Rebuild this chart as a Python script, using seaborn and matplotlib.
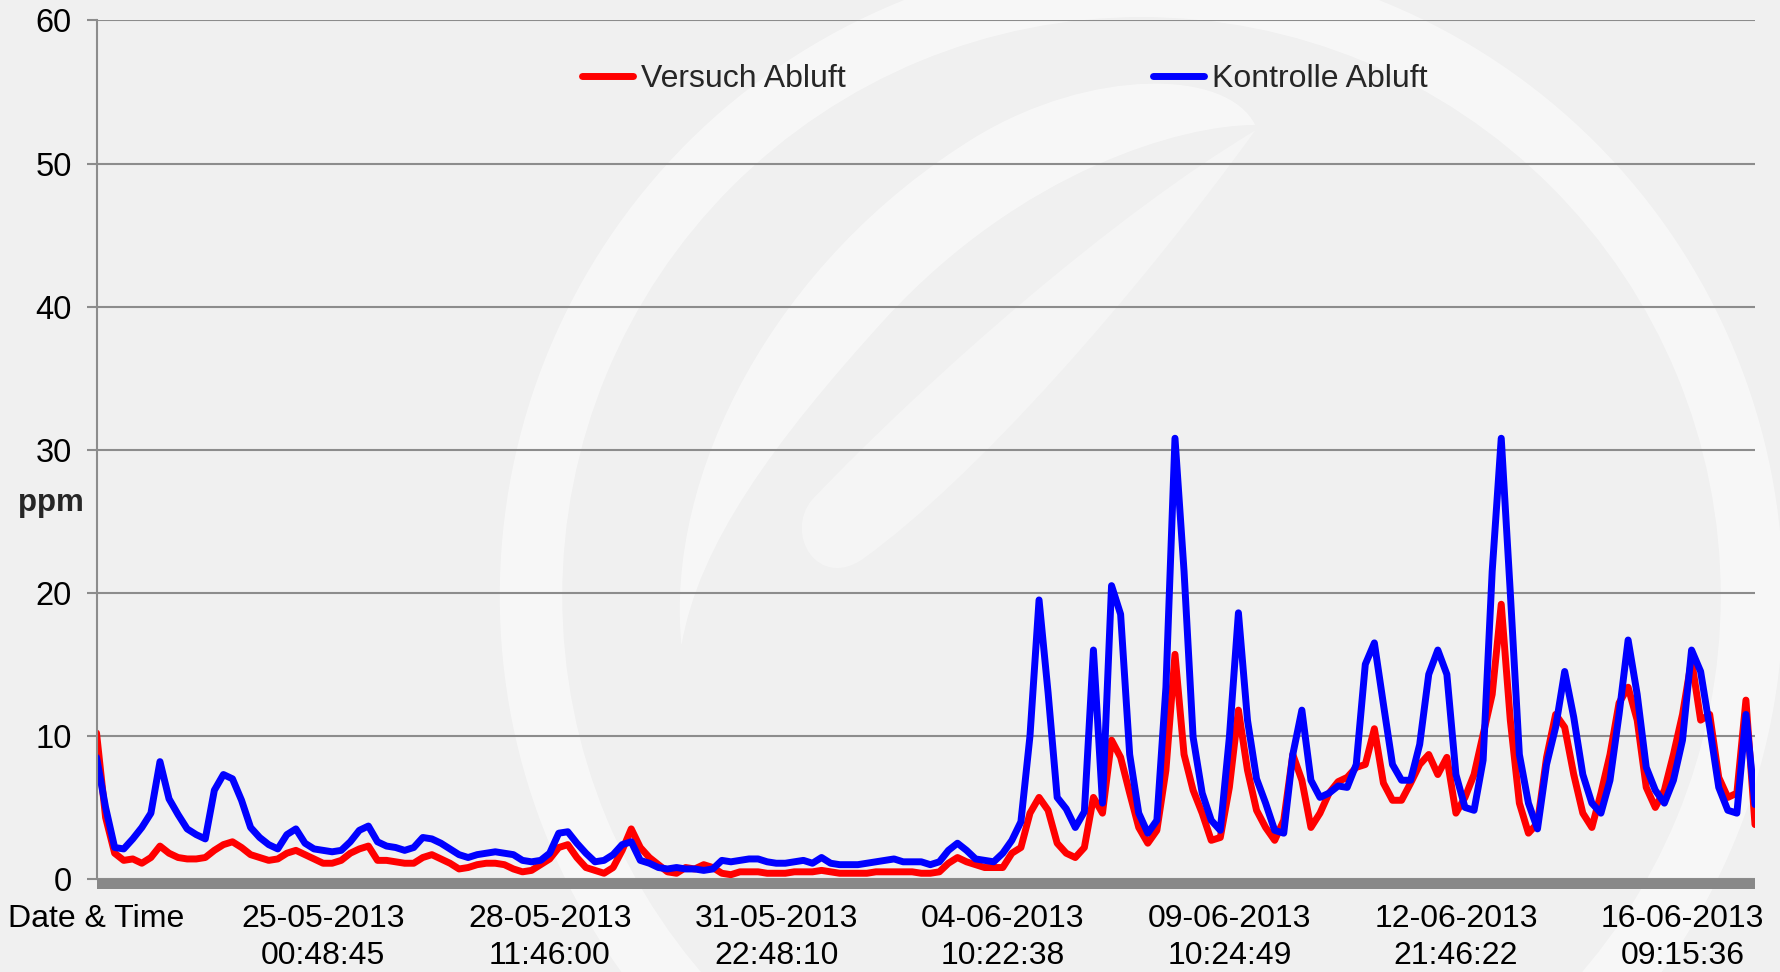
import numpy as np
import pandas as pd
import seaborn as sns
import matplotlib.pyplot as plt
from matplotlib.patches import Wedge, PathPatch, Rectangle
from matplotlib.path import Path

# ---------------- data (ppm per sample) ----------------
versuch = [10.2, 4.3, 1.8, 1.3, 1.4, 1.1, 1.5, 2.3, 1.8, 1.5,
           1.4, 1.4, 1.5, 2.0, 2.4, 2.6, 2.2, 1.7, 1.5, 1.3,
           1.4, 1.8, 2.0, 1.7, 1.4, 1.1, 1.1, 1.3, 1.8, 2.1,
           2.3, 1.3, 1.3, 1.2, 1.1, 1.1, 1.5, 1.7, 1.4, 1.1,
           0.7, 0.8, 1.0, 1.1, 1.1, 1.0, 0.7, 0.5, 0.6, 1.0,
           1.4, 2.2, 2.4, 1.5, 0.8, 0.6, 0.4, 0.8, 2.0, 3.5,
           2.2, 1.5, 1.0, 0.5, 0.4, 0.8, 0.7, 1.0, 0.8, 0.4,
           0.3, 0.5, 0.5, 0.5, 0.4, 0.4, 0.4, 0.5, 0.5, 0.5,
           0.6, 0.5, 0.4, 0.4, 0.4, 0.4, 0.5, 0.5, 0.5, 0.5,
           0.5, 0.4, 0.4, 0.5, 1.1, 1.5, 1.2, 1.0, 0.8, 0.8,
           0.8, 1.8, 2.2, 4.6, 5.7, 4.8, 2.5, 1.8, 1.5, 2.2,
           5.7, 4.6, 9.7, 8.5, 6.0, 3.6, 2.5, 3.4, 7.6, 15.7,
           8.7, 6.2, 4.6, 2.7, 2.9, 6.4, 11.8, 7.6, 4.8, 3.6,
           2.7, 4.1, 8.7, 6.9, 3.6, 4.6, 6.0, 6.8, 7.1, 7.8,
           8.0, 10.5, 6.7, 5.5, 5.5, 6.7, 8.0, 8.7, 7.3, 8.5,
           4.6, 5.7, 7.3, 10.1, 12.9, 19.2, 11.1, 5.3, 3.2, 3.9,
           8.5, 11.5, 10.6, 7.3, 4.6, 3.6, 6.0, 8.7, 12.3, 13.4,
           11.1, 6.4, 5.0, 6.2, 8.7, 11.5, 15.3, 11.1, 11.5, 7.1,
           5.7, 6.0, 12.5, 3.8]

kontrolle = [8.5, 5.0, 2.2, 2.1, 2.8, 3.6, 4.6, 8.2, 5.6, 4.5,
             3.5, 3.1, 2.8, 6.2, 7.3, 7.0, 5.5, 3.6, 2.9, 2.4,
             2.1, 3.1, 3.5, 2.5, 2.1, 2.0, 1.9, 2.0, 2.6, 3.4,
             3.7, 2.6, 2.3, 2.2, 2.0, 2.2, 2.9, 2.8, 2.5, 2.1,
             1.7, 1.5, 1.7, 1.8, 1.9, 1.8, 1.7, 1.3, 1.2, 1.3,
             1.8, 3.2, 3.3, 2.5, 1.8, 1.2, 1.3, 1.7, 2.4, 2.6,
             1.3, 1.1, 0.8, 0.7, 0.8, 0.7, 0.7, 0.6, 0.7, 1.3,
             1.2, 1.3, 1.4, 1.4, 1.2, 1.1, 1.1, 1.2, 1.3, 1.1,
             1.5, 1.1, 1.0, 1.0, 1.0, 1.1, 1.2, 1.3, 1.4, 1.2,
             1.2, 1.2, 1.0, 1.2, 2.0, 2.5, 2.0, 1.4, 1.3, 1.2,
             1.8, 2.7, 4.0, 10.0, 19.5, 13.0, 5.7, 4.9, 3.6, 4.7,
             16.0, 5.3, 20.5, 18.5, 8.7, 4.6, 3.2, 4.1, 13.4, 30.8,
             21.5, 9.9, 6.0, 4.1, 3.4, 9.9, 18.6, 11.1, 7.0, 5.3,
             3.4, 3.2, 8.7, 11.8, 6.9, 5.7, 6.0, 6.5, 6.4, 8.0,
             15.0, 16.5, 12.2, 8.0, 6.9, 6.9, 9.4, 14.3, 16.0, 14.3,
             7.3, 5.0, 4.8, 8.3, 21.5, 30.8, 20.0, 8.7, 5.3, 3.5,
             8.0, 10.6, 14.5, 11.3, 7.3, 5.3, 4.6, 6.9, 11.5, 16.7,
             12.9, 7.8, 6.2, 5.3, 6.9, 9.7, 16.0, 14.5, 10.6, 6.4,
             4.8, 4.6, 11.5, 5.2]

tick_pos = [0, 25, 50, 75, 100, 125, 150, 175]
tick_labels = ["Date & Time",
               "25-05-2013\n00:48:45",
               "28-05-2013\n11:46:00",
               "31-05-2013\n22:48:10",
               "04-06-2013\n10:22:38",
               "09-06-2013\n10:24:49",
               "12-06-2013\n21:46:22",
               "16-06-2013\n09:15:36"]

df = pd.DataFrame({"idx": np.arange(len(kontrolle)),
                   "Versuch Abluft": versuch,
                   "Kontrolle Abluft": kontrolle})

sns.set_style("white")
plt.rcParams['font.family'] = ['Liberation Sans', 'DejaVu Sans']

fig = plt.figure(figsize=(17.81, 9.72), dpi=100)
fig.patch.set_facecolor('#f0f0f0')

# ---------- watermark swooshes (background) ----------
bg = fig.add_axes([0, 0, 1, 1], zorder=0)
bg.set_xlim(0, 1568)
bg.set_ylim(856, 0)
bg.axis('off')
bg.add_patch(Wedge((1005, 525), 565, 0, 360, width=55, color='white', alpha=0.5, lw=0))
cres = Path([(600, 568), (585, 420), (680, 230), (860, 120),
             (960, 60), (1080, 60), (1105, 110),
             (1040, 110), (900, 150), (780, 280),
             (680, 390), (615, 480), (600, 568), (600, 568)],
            [Path.MOVETO, Path.CURVE4, Path.CURVE4, Path.CURVE4,
             Path.CURVE4, Path.CURVE4, Path.CURVE4,
             Path.CURVE4, Path.CURVE4, Path.CURVE4,
             Path.CURVE4, Path.CURVE4, Path.CURVE4, Path.CLOSEPOLY])
bg.add_patch(PathPatch(cres, color='white', alpha=0.5, lw=0))
leaf = Path([(1105, 115), (1000, 260), (860, 420), (760, 492),
             (720, 520), (690, 470), (715, 440),
             (820, 330), (980, 190), (1105, 115), (1105, 115)],
            [Path.MOVETO, Path.CURVE4, Path.CURVE4, Path.CURVE4,
             Path.CURVE4, Path.CURVE4, Path.CURVE4,
             Path.CURVE4, Path.CURVE4, Path.CURVE4, Path.CLOSEPOLY])
bg.add_patch(PathPatch(leaf, color='white', alpha=0.35, lw=0))

# ---------- main axes ----------
ax = fig.add_axes([0.0542, 0.0957, 0.9312, 0.8833], zorder=1)
ax.set_facecolor('none')

sns.lineplot(data=df, x="idx", y="Versuch Abluft", color='#ff0000', lw=5,
             ax=ax, label="Versuch Abluft")
sns.lineplot(data=df, x="idx", y="Kontrolle Abluft", color='#0000ff', lw=5,
             ax=ax, label="Kontrolle Abluft")

ax.set_xlim(0, 183)
ax.set_ylim(0, 60)
ax.set_yticks(range(0, 61, 10))
ax.set_xticks(tick_pos, tick_labels)
ax.set_xlabel("")
ax.set_ylabel("")

ax.yaxis.grid(True, color='#8c8c8c', lw=1.5)
ax.xaxis.grid(False)
ax.set_axisbelow(True)
for s in ['top', 'right', 'bottom']:
    ax.spines[s].set_visible(False)
ax.spines['left'].set_color('#8c8c8c')
ax.spines['left'].set_linewidth(1.5)

ax.tick_params(axis='y', left=True, length=7, width=1.5, color='#8c8c8c',
               pad=11, labelsize=23.5, labelcolor='black')
ax.tick_params(axis='x', bottom=False, length=0, pad=18, labelsize=23,
               labelcolor='black')
for t in ax.get_xticklabels():
    t.set_linespacing(1.32)

# thick grey floor under the zero line
ax.add_patch(Rectangle((0, -0.0117), 1, 0.0117, transform=ax.transAxes,
                       clip_on=False, color='#888888', lw=0, zorder=3))

fig.text(51 / 1781, 1 - 503 / 972, "ppm", fontsize=22.5, fontweight='bold',
         ha='center', va='center')

ax.legend(loc='center', bbox_to_anchor=(1005 / 1781, 1 - 79 / 972),
          bbox_transform=fig.transFigure, ncol=2, frameon=False, fontsize=23,
          handlelength=1.6, handletextpad=0.25, columnspacing=9.6)

plt.savefig('out.png', dpi=100, facecolor=fig.get_facecolor())
